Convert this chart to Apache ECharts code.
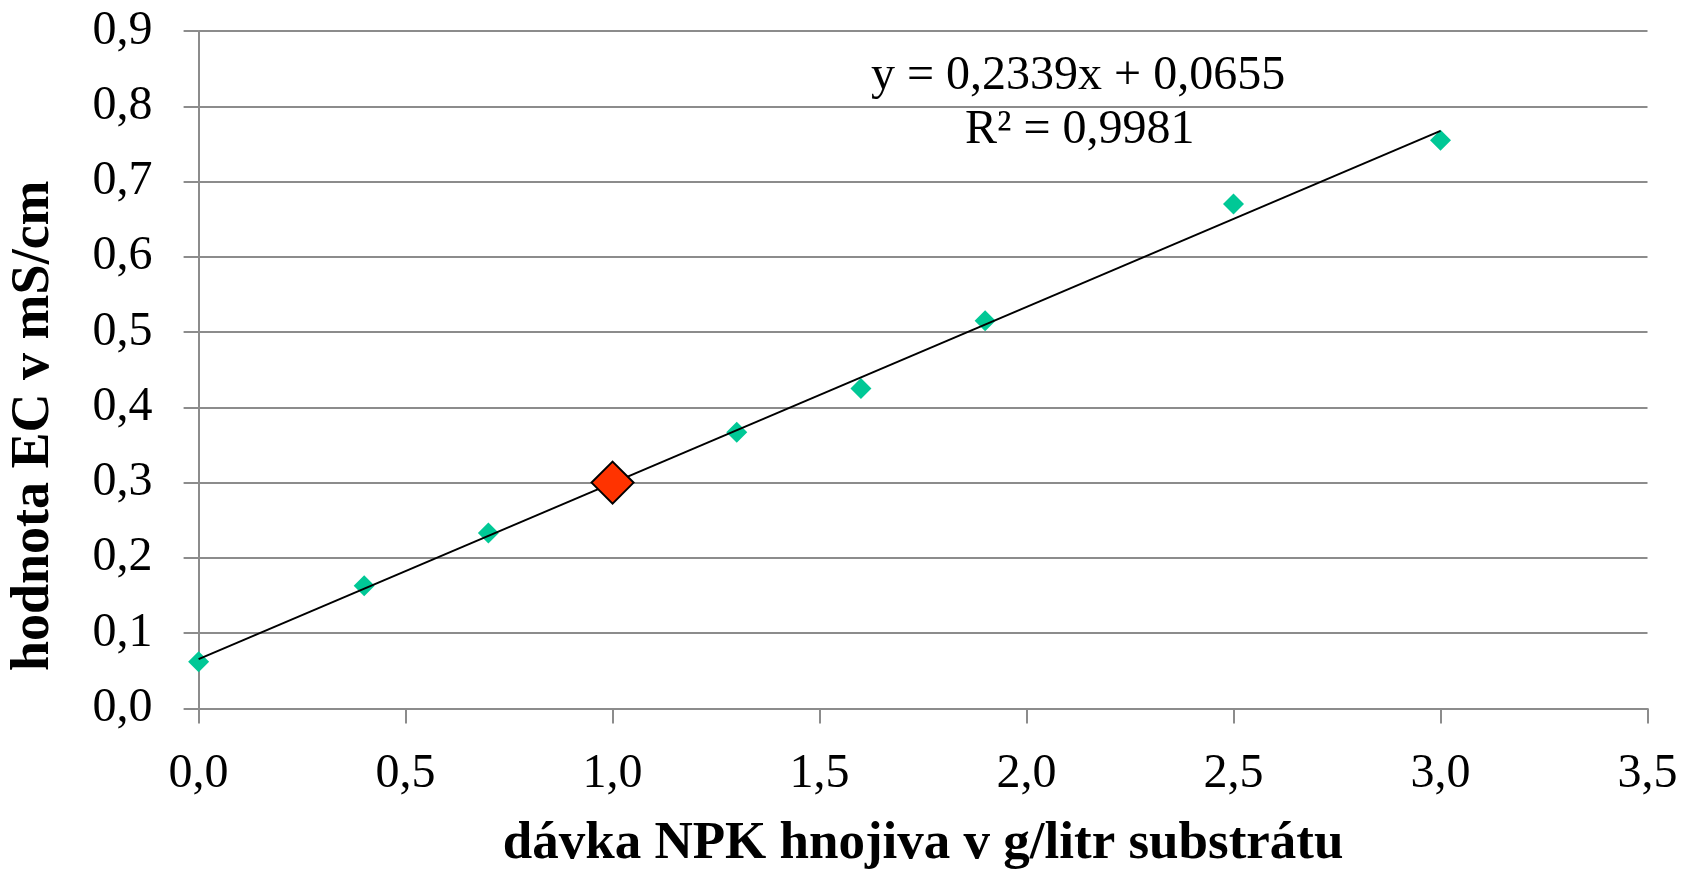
<!DOCTYPE html>
<html>
<head>
<meta charset="utf-8">
<script src="https://cdn.jsdelivr.net/npm/echarts@6/dist/echarts.min.js"></script>
<style>
html,body{margin:0;padding:0;background:#fff;}
#chart{width:1683px;height:870px;}
</style>
</head>
<body>
<div id="chart"></div>
<script>
const doseX = [0.0, 0.4, 0.7, 1.3, 1.6, 1.9, 2.5, 3.0];
const ecY = [0.062, 0.163, 0.233, 0.367, 0.425, 0.515, 0.670, 0.755];
const highlightX = [1.0];
const highlightY = [0.300];
const slope = 0.2339;
const intercept = 0.0655;
const trendRange = [0.0, 3.0];
const eqLine1 = 'y = 0,2339x + 0,0655';
const eqLine2 = 'R² = 0,9981';
const xTitle = 'dávka NPK hnojiva v g/litr substrátu';
const yTitle = 'hodnota EC v mS/cm';

const FONT = '"Liberation Serif", "Times New Roman", serif';
const fmt1 = v => v.toFixed(1).replace('.', ',');

const chart = echarts.init(document.getElementById('chart'), null, {renderer: 'canvas'});
const option = {
  backgroundColor: '#fff',
  animation: false,
  grid: {left: 198.6, right: 35.5, top: 31, bottom: 161.6, containLabel: false, outerBoundsMode: 'none'},
  xAxis: {
    type: 'value', min: 0, max: 3.5, interval: 0.5,
    name: xTitle, nameLocation: 'middle', nameGap: 109,
    nameTextStyle: {fontFamily: FONT, fontWeight: 'bold', fontSize: 53, color: '#000'},
    axisLine: {show: true, lineStyle: {color: '#8c8c8c', width: 2}},
    axisTick: {show: true, length: 15, lineStyle: {color: '#8c8c8c', width: 2}},
    axisLabel: {formatter: fmt1, fontFamily: FONT, fontSize: 48, color: '#000', margin: 42},
    splitLine: {show: false}
  },
  yAxis: {
    type: 'value', min: 0, max: 0.9, interval: 0.1,
    name: yTitle, nameLocation: 'middle', nameGap: 138, nameRotate: 90,
    nameTextStyle: {fontFamily: FONT, fontWeight: 'bold', fontSize: 54, color: '#000', padding: [0, 112, 0, 0]},
    axisLine: {show: true, lineStyle: {color: '#8c8c8c', width: 2}},
    axisTick: {show: true, length: 15, lineStyle: {color: '#8c8c8c', width: 2}},
    axisLabel: {formatter: fmt1, fontFamily: FONT, fontSize: 48, color: '#000', margin: 46},
    splitLine: {show: true, lineStyle: {color: '#8c8c8c', width: 2}}
  },
  series: [
    {
      type: 'line', name: 'trend',
      data: trendRange.map(x => [x, slope * x + intercept]),
      showSymbol: false, symbol: 'none',
      lineStyle: {color: '#000', width: 2},
      z: 3
    },
    {
      type: 'scatter', name: 'EC',
      data: doseX.map((x, i) => [x, ecY[i]]),
      symbol: 'diamond', symbolSize: 21,
      itemStyle: {color: '#00C896', opacity: 1},
      z: 2
    },
    {
      type: 'scatter', name: 'highlight',
      data: highlightX.map((x, i) => [x, highlightY[i]]),
      symbol: 'diamond', symbolSize: 42,
      itemStyle: {color: '#FF3300', borderColor: '#000', borderWidth: 2, opacity: 1},
      z: 4
    }
  ],
  graphic: [
    {type: 'text', left: 1077 - 206, top: 52,
     style: {text: eqLine1, font: '48px ' + FONT, fill: '#000'}},
    {type: 'text', left: 1077 - 112, top: 106,
     style: {text: eqLine2, font: '48px ' + FONT, fill: '#000'}}
  ]
};
chart.setOption(option);
</script>
</body>
</html>
